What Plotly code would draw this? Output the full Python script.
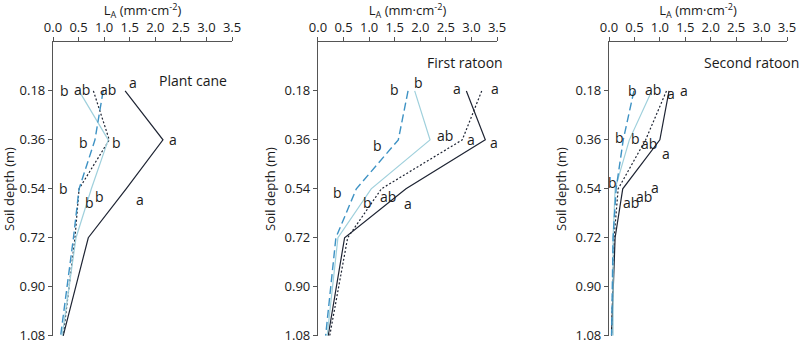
import plotly.graph_objects as go

depths = [0.18, 0.36, 0.54, 0.72, 1.08]
depth_ticks = [0.18, 0.36, 0.54, 0.72, 0.90, 1.08]
x_ticks = [0.0, 0.5, 1.0, 1.5, 2.0, 2.5, 3.0, 3.5]

panel_names = ["Plant cane", "First ratoon", "Second ratoon"]

# series values per panel (L_A, mm·cm-2) at each depth
solid_vals = [
    [1.41, 2.15, 1.43, 0.69, 0.20],
    [2.90, 3.27, 1.72, 0.52, 0.20],
    [1.18, 1.00, 0.27, 0.12, 0.05],
]
dotted_vals = [
    [0.79, 1.10, 0.51, 0.43, 0.20],
    [3.20, 2.82, 1.24, 0.58, 0.23],
    [1.13, 0.72, 0.18, 0.10, 0.05],
]
light_vals = [
    [0.51, 1.08, 0.75, 0.45, 0.18],
    [1.89, 2.19, 1.04, 0.39, 0.18],
    [0.84, 0.40, 0.12, 0.08, 0.08],
]
dashed_vals = [
    [0.98, 0.82, 0.51, 0.40, 0.15],
    [1.76, 1.57, 0.75, 0.35, 0.15],
    [0.49, 0.28, 0.14, 0.08, 0.05],
]

# letter labels: (text, x value, depth)
letters = [
    [("b", 0.22, 0.18), ("ab", 0.57, 0.175), ("ab", 1.08, 0.175), ("a", 1.57, 0.15),
     ("b", 0.59, 0.37), ("b", 1.25, 0.37), ("a", 2.35, 0.36),
     ("b", 0.20, 0.54), ("b", 0.72, 0.59), ("b", 0.90, 0.57), ("a", 1.70, 0.58)],
    [("b", 1.50, 0.175), ("b", 1.96, 0.15), ("a", 2.72, 0.17), ("a", 3.46, 0.17),
     ("b", 1.17, 0.38), ("ab", 2.49, 0.345), ("a", 3.00, 0.36), ("a", 3.44, 0.37),
     ("b", 0.39, 0.555), ("b", 0.96, 0.59), ("ab", 1.37, 0.57), ("a", 1.76, 0.595)],
    [("b", 0.47, 0.18), ("ab", 0.86, 0.175), ("a", 1.21, 0.19), ("a", 1.47, 0.18),
     ("b", 0.21, 0.35), ("b", 0.53, 0.355), ("ab", 0.78, 0.375), ("a", 1.13, 0.41),
     ("b", 0.06, 0.515), ("ab", 0.43, 0.59), ("ab", 0.69, 0.57), ("a", 0.90, 0.535)],
]
name_pos = [(2.74, 0.143), (2.88, 0.077), (2.80, 0.077)]

domains = [[0.0, 0.2439], [0.361, 0.605], [0.7575, 1.0]]

FONT = "Open Sans, Noto Sans, sans-serif"
TXT = "#1a1a1a"
AX = "#555555"

styles = [
    (solid_vals, dict(color="#1e2433", width=1.2, dash="solid")),
    (dotted_vals, dict(color="#1e2433", width=1.2, dash="2px,2px")),
    (light_vals, dict(color="#9fd0dc", width=1.2, dash="solid")),
    (dashed_vals, dict(color="#3d92c4", width=1.4, dash="8px,4px")),
]

fig = go.Figure()
layout = dict(
    width=800, height=341,
    margin=dict(l=53, r=13, t=42, b=5),
    paper_bgcolor="white", plot_bgcolor="white",
    showlegend=False,
    font=dict(family=FONT, size=13, color=TXT),
)
annotations = []
for p in range(3):
    xa = "x" if p == 0 else f"x{p+1}"
    ya = "y" if p == 0 else f"y{p+1}"
    for vals, line in styles:
        fig.add_trace(go.Scatter(x=vals[p], y=depths, mode="lines", line=line,
                                 xaxis=xa, yaxis=ya, hoverinfo="skip"))
    key = "" if p == 0 else str(p + 1)
    layout["xaxis" + key] = dict(
        domain=domains[p], range=[0, 3.5], side="top", anchor=ya,
        tickvals=x_ticks, ticktext=[f"{v:.1f}" for v in x_ticks],
        showline=True, linecolor=AX, linewidth=1.2, ticks="outside", ticklen=4,
        tickcolor=AX, showgrid=False, zeroline=False, automargin=False,
        title=dict(text="L<sub>A</sub> (mm·cm<sup>-2</sup>)", standoff=6,
                   font=dict(size=13)),
        tickfont=dict(size=13),
    )
    layout["yaxis" + key] = dict(
        range=[1.0815, 0.0], anchor=xa, domain=[0, 1],
        tickvals=depth_ticks, ticktext=[f"{v:.2f}" for v in depth_ticks],
        showline=True, linecolor=AX, linewidth=1.2, ticks="outside", ticklen=4,
        tickcolor=AX, showgrid=False, zeroline=False, ticklabeloverflow="allow",
        automargin=False,
        title=dict(text="Soil depth (m)", standoff=6, font=dict(size=13)),
        tickfont=dict(size=13),
    )
    for t, xv, yv in letters[p]:
        annotations.append(dict(text=t, x=xv, y=yv, xref=xa, yref=ya,
                                showarrow=False, font=dict(size=14, color=TXT)))
    nx, ny = name_pos[p]
    annotations.append(dict(text=panel_names[p], x=nx, y=ny, xref=xa, yref=ya,
                            showarrow=False, font=dict(size=14, color=TXT)))
layout["annotations"] = annotations
fig.update_layout(**layout)
fig.write_html("out.html")
